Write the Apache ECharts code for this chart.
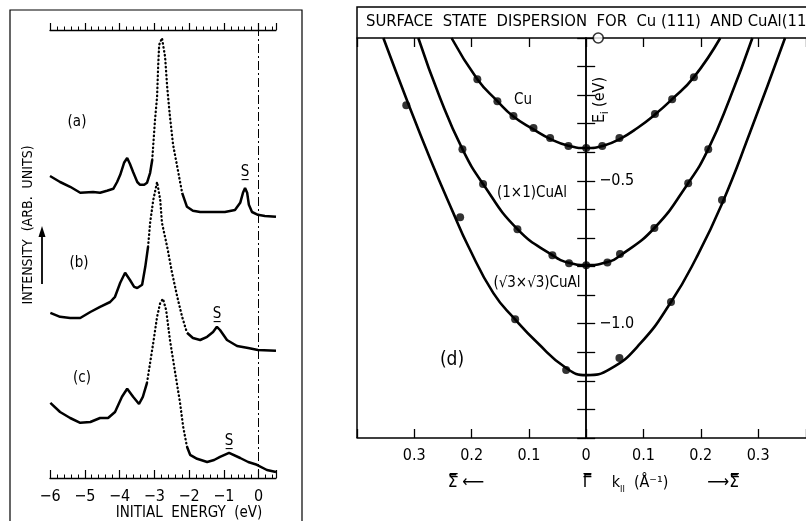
<!DOCTYPE html>
<html>
<head>
<meta charset="UTF-8">
<title>Surface state dispersion Cu(111) / CuAl(111)</title>
<style>
    html, body { margin: 0; padding: 0; background: #fff; }
    #chartArea {
        position : absolute;
        top : 0;
        left : 0;
        width : 806px;
        height : 521px;
    }
</style>
</head>
<body>
<div id="chartArea"></div>
<script src="https://cdn.jsdelivr.net/npm/echarts@6/dist/echarts.min.js"></script>
<script>
var FONT = "'DejaVu Sans Condensed', 'Liberation Sans Narrow', 'DejaVu Sans', sans-serif";

// ---- left panel : spectra, [initial energy (eV), intensity (arb. units)]
var spectrumA = [
    [-6.0, 75.5], [-5.71, 74], [-5.42, 72.8], [-5.13, 71.3], [-4.76, 71.5], [-4.56, 71.3],
    [-4.36, 71.8], [-4.18, 72.3], [-4.07, 74], [-3.98, 75.8], [-3.87, 78.8], [-3.78, 80],
    [-3.70, 78.5], [-3.61, 76.5], [-3.49, 74], [-3.41, 73.3], [-3.29, 73.3], [-3.21, 73.8],
    [-3.12, 76.3], [-3.06, 79.5], [-2.98, 89.5], [-2.92, 95.3], [-2.89, 102.8], [-2.86, 108.3],
    [-2.78, 110], [-2.69, 105.3], [-2.63, 97.8], [-2.55, 90.3], [-2.46, 83.3], [-2.34, 77.8],
    [-2.20, 71.3], [-2.06, 67.8], [-1.89, 66.8], [-1.68, 66.5], [-1.31, 66.5], [-0.97, 66.5],
    [-0.68, 67], [-0.53, 68.8], [-0.45, 71.3], [-0.39, 72.5], [-0.33, 71.3], [-0.28, 68.3],
    [-0.19, 66.5], [-0.02, 65.8], [0.18, 65.5], [0.5, 65.3]
];
var spectrumB = [
    [-5.99, 41.3], [-5.71, 40.3], [-5.42, 40], [-5.13, 40], [-4.84, 41.5], [-4.56, 42.8],
    [-4.27, 44], [-4.13, 45.3], [-3.98, 48.8], [-3.84, 51.3], [-3.70, 49.5], [-3.58, 47.8],
    [-3.49, 47.5], [-3.35, 48.3], [-3.26, 52.8], [-3.18, 57.8], [-3.12, 63.8], [-3.03, 69.5],
    [-2.92, 74], [-2.83, 69.5], [-2.78, 63.8], [-2.63, 57.8], [-2.49, 51.3], [-2.34, 45.3],
    [-2.20, 40.3], [-2.06, 36.3], [-1.89, 35], [-1.68, 34.5], [-1.48, 35.3], [-1.31, 36.5],
    [-1.20, 37.8], [-1.11, 37], [-0.91, 34.5], [-0.62, 33], [-0.30, 32.5], [-0.02, 32],
    [0.5, 31.8]
];
var spectrumC = [
    [-5.99, 18.8], [-5.71, 16.5], [-5.42, 15], [-5.13, 13.8], [-4.84, 14], [-4.56, 15],
    [-4.33, 15], [-4.13, 16.5], [-3.93, 20.3], [-3.78, 22.3], [-3.61, 20.3], [-3.44, 18.5],
    [-3.33, 20.3], [-3.21, 23.8], [-3.12, 28.8], [-3.03, 33.8], [-2.92, 40.3], [-2.83, 43.8],
    [-2.75, 44.8], [-2.66, 42], [-2.55, 34.5], [-2.40, 26.3], [-2.26, 18.8], [-2.17, 12.8],
    [-2.06, 7.8], [-1.97, 5.8], [-1.77, 4.8], [-1.48, 4], [-1.28, 4.5], [-1.11, 5.3],
    [-0.85, 6.3], [-0.53, 5], [-0.30, 4], [-0.05, 3.3], [0.24, 2], [0.5, 1.5]
];
// energy window where the recorded points are sparse (drawn dotted)
var dottedA = [-3.06, -2.20];
var dottedB = [-3.18, -2.06];
var dottedC = [-3.21, -2.06];
var fermiLevel = 0;

// ---- right panel : dispersion, [k (1/A), E_i (eV)]
var cuCurve = [
    [-0.235, 0], [-0.19, -0.144], [-0.155, -0.221], [-0.127, -0.275], [-0.092, -0.320],
    [-0.063, -0.353], [-0.031, -0.377], [0, -0.385], [0.03, -0.377], [0.06, -0.352],
    [0.09, -0.314], [0.12, -0.268], [0.15, -0.214], [0.188, -0.137], [0.234, 0]
];
var cuDots = [
    [-0.190, -0.144], [-0.155, -0.221], [-0.127, -0.273], [-0.092, -0.315], [-0.063, -0.350],
    [-0.031, -0.378], [0, -0.385], [0.028, -0.378], [0.058, -0.350], [0.120, -0.266],
    [0.150, -0.214], [0.188, -0.137]
];
var cuAl11Curve = [
    [-0.293, 0], [-0.255, -0.21], [-0.216, -0.389], [-0.180, -0.511], [-0.120, -0.669],
    [-0.059, -0.760], [-0.030, -0.787], [0, -0.795], [0.037, -0.784], [0.059, -0.762],
    [0.119, -0.665], [0.178, -0.508], [0.213, -0.389], [0.251, -0.21], [0.290, 0]
];
var cuAl11Dots = [
    [-0.216, -0.389], [-0.180, -0.511], [-0.120, -0.669], [-0.059, -0.760], [-0.030, -0.788],
    [0, -0.795], [0.037, -0.786], [0.059, -0.756], [0.119, -0.665], [0.178, -0.508],
    [0.213, -0.389]
];
var cuAlR3Curve = [
    [-0.354, 0], [-0.312, -0.222], [-0.272, -0.424], [-0.232, -0.612], [-0.206, -0.728],
    [-0.162, -0.893], [-0.124, -0.985], [-0.086, -1.065], [-0.035, -1.155], [0, -1.18],
    [0.042, -1.158], [0.094, -1.07], [0.148, -0.924], [0.192, -0.77], [0.237, -0.58],
    [0.286, -0.33], [0.347, 0]
];
var cuAlR3Dots = [
    [-0.314, -0.235], [-0.220, -0.627], [-0.124, -0.984], [-0.035, -1.162], [0.058, -1.120],
    [0.148, -0.924], [0.237, -0.567]
];
var fermiMark = [[0.021, 0]];

// split a spectrum into its solid part and its dotted part
function splitSpectrum(data, range) {
    var solid = data.map(function (p) {
        return (p[0] > range[0] && p[0] < range[1]) ? [p[0], '-'] : p;
    });
    var dotted = data.map(function (p) {
        return (p[0] >= range[0] && p[0] <= range[1]) ? p : [p[0], '-'];
    });
    return [solid, dotted];
}

function spectrumSeries(data, range, withFermi) {
    var parts = splitSpectrum(data, range);
    var solid = {
        type: 'line', xAxisIndex: 2, yAxisIndex: 2, data: parts[0],
        showSymbol: false, symbol: 'none', connectNulls: false,
        lineStyle: { color: '#000', width: 2.5 }
    };
    if (withFermi) {
        solid.markLine = {
            silent: true, symbol: 'none', label: { show: false },
            lineStyle: { color: '#000', width: 1, type: [9, 3, 2, 3] },
            data: [{ xAxis: fermiLevel }]
        };
    }
    var dotted = {
        type: 'line', xAxisIndex: 2, yAxisIndex: 2, data: parts[1],
        showSymbol: false, symbol: 'none', connectNulls: false,
        lineStyle: { color: '#000', width: 2.3, type: [0.5, 3.5], cap: 'round' }
    };
    return [solid, dotted];
}

function curveSeries(data) {
    return {
        type: 'line', xAxisIndex: 0, yAxisIndex: 0, data: data,
        smooth: 0.5, showSymbol: false, symbol: 'none',
        lineStyle: { color: '#000', width: 2.6 }
    };
}
function dotSeries(data) {
    return {
        type: 'scatter', xAxisIndex: 0, yAxisIndex: 0, data: data,
        symbol: 'circle', symbolSize: 8, itemStyle: { color: '#000' }
    };
}

var near = function (a, b) { return Math.abs(a - b) < 1e-6; };

// right panel geometry: k = -0.4 on the frame, 573 px per 1/A, clipped at the page edge
var kMin = -0.4, kPx = 573, rightLeft = 357, rightWidth = 449;
var kMax = kMin + rightWidth / kPx;
var zeroOffset = -(0 - kMin) * kPx;

var myChart = echarts.init(document.getElementById('chartArea'), null, { renderer: 'canvas' });

var series = []
    .concat(spectrumSeries(spectrumA, dottedA, true))
    .concat(spectrumSeries(spectrumB, dottedB, false))
    .concat(spectrumSeries(spectrumC, dottedC, false))
    .concat([
        curveSeries(cuCurve), curveSeries(cuAl11Curve), curveSeries(cuAlR3Curve),
        dotSeries(cuDots), dotSeries(cuAl11Dots), dotSeries(cuAlR3Dots),
        {
            type: 'scatter', xAxisIndex: 1, yAxisIndex: 0, data: fermiMark,
            symbol: 'circle', symbolSize: 10,
            itemStyle: { color: '#fff', borderColor: '#000', borderWidth: 1.6 },
            z: 5
        }
    ]);

var txt = function (x, y, text, size, extra) {
    var o = {
        type: 'text', x: x, y: y,
        style: { text: text, fill: '#000', font: size + 'px ' + FONT, textAlign: 'center', textVerticalAlign: 'middle' }
    };
    if (extra) { for (var k in extra) { o.style[k] = extra[k]; } }
    return o;
};

var kLabel = function (v) {
    if (Math.abs(v) > 0.35) return '';
    return near(v, 0) ? '0' : Math.abs(v).toFixed(1);
};

myChart.setOption({
    animation: false,
    backgroundColor: '#fff',
    textStyle: { fontFamily: FONT, color: '#000' },
    grid: [
        { left: rightLeft, top: 38, width: rightWidth, height: 400, outerBoundsMode: 'none', containLabel: false },
        { left: 50, top: 30, width: 226, height: 448, outerBoundsMode: 'none', containLabel: false }
    ],
    xAxis: [
        {   // right panel, k axis
            gridIndex: 0, type: 'value', position: 'bottom', min: kMin, max: kMax, interval: 0.1,
            axisLine: { onZero: false, lineStyle: { color: '#000', width: 1.5 } },
            axisTick: { inside: true, length: 9, lineStyle: { color: '#000', width: 1.3 } },
            axisLabel: { color: '#000', fontSize: 16, fontFamily: FONT, margin: 10, formatter: kLabel },
            splitLine: { show: false }
        },
        {   // right panel, top edge under the title
            gridIndex: 0, type: 'value', position: 'top', min: kMin, max: kMax, interval: 0.1,
            axisLine: { onZero: false, lineStyle: { color: '#000', width: 1.5 } },
            axisTick: { inside: true, length: 9, lineStyle: { color: '#000', width: 1.3 } },
            axisLabel: { show: false },
            splitLine: { show: false }
        },
        {   // left panel, energy axis
            gridIndex: 1, type: 'value', position: 'bottom', min: -6, max: 0.5, interval: 1,
            axisLine: { onZero: false, lineStyle: { color: '#000', width: 1.3 } },
            axisTick: { inside: true, length: 8, lineStyle: { color: '#000', width: 1.2 } },
            minorTick: { show: true, splitNumber: 5, length: 3.5, lineStyle: { color: '#000', width: 1 } },
            axisLabel: {
                color: '#000', fontSize: 16, fontFamily: FONT, margin: 11,
                formatter: function (v) {
                    if (v > 0.1) return '';
                    return v < 0 ? '\u2212' + Math.abs(v) : String(v);
                }
            },
            splitLine: { show: false }, minorSplitLine: { show: false }
        },
        {   // left panel, top ruler
            gridIndex: 1, type: 'value', position: 'top', min: -6, max: 0.5, interval: 1,
            axisLine: { onZero: false, lineStyle: { color: '#000', width: 1.3 } },
            axisTick: { inside: false, length: 7, lineStyle: { color: '#000', width: 1.2 } },
            minorTick: { show: true, splitNumber: 5, length: 3.5, lineStyle: { color: '#000', width: 1 } },
            axisLabel: { show: false },
            splitLine: { show: false }, minorSplitLine: { show: false }
        }
    ],
    yAxis: [
        {   // right panel E_i axis at k = 0, ticks to the left
            gridIndex: 0, type: 'value', min: -1.4, max: 0, interval: 0.1, position: 'left',
            offset: zeroOffset,
            axisLine: { onZero: false, lineStyle: { color: '#000', width: 1.5 } },
            axisTick: { inside: false, length: 9, lineStyle: { color: '#000', width: 1.3 } },
            axisLabel: { show: false },
            splitLine: { show: false }
        },
        {   // same axis, ticks to the right and labels
            gridIndex: 0, type: 'value', min: -1.4, max: 0, interval: 0.1, position: 'left',
            offset: zeroOffset,
            axisLine: { onZero: false, lineStyle: { color: '#000', width: 1.5 } },
            axisTick: { inside: true, length: 9, lineStyle: { color: '#000', width: 1.3 } },
            axisLabel: {
                inside: true, margin: 13, color: '#000', fontSize: 16, fontFamily: FONT,
                formatter: function (v) {
                    if (near(v, -0.5)) return '\u22120.5';
                    if (near(v, -1)) return '\u22121.0';
                    return '';
                }
            },
            splitLine: { show: false }
        },
        {   // left panel intensity, hidden
            gridIndex: 1, type: 'value', min: 0, max: 112, show: false,
            splitLine: { show: false }
        }
    ],
    graphic: [
        // left panel frame and texts
        { type: 'rect', shape: { x: 10, y: 10, width: 292, height: 530 },
          style: { fill: 'none', stroke: '#000', lineWidth: 1.2 } },
        txt(77, 122, '(a)', 15),
        txt(79, 263, '(b)', 15),
        txt(82, 378, '(c)', 15),
        txt(245, 172, 'S\u0332', 15),
        txt(217, 314, 'S\u0332', 15),
        txt(229, 441, 'S\u0332', 15),
        { type: 'text', x: 28, y: 225, rotation: Math.PI / 2,
          style: { text: 'INTENSITY  (ARB.  UNITS)', fill: '#000', font: '14px ' + FONT,
                   textAlign: 'center', textVerticalAlign: 'middle' } },
        { type: 'line', shape: { x1: 42, y1: 284, x2: 42, y2: 234 },
          style: { stroke: '#000', lineWidth: 1.8 } },
        { type: 'polygon', shape: { points: [[42, 226], [38.5, 237], [45.5, 237]] },
          style: { fill: '#000' } },
        txt(189, 513, 'INITIAL  ENERGY  (eV)', 15),

        // right panel frame, title and texts
        { type: 'polyline', shape: { points: [[357, 438], [357, 7], [806, 7]] },
          style: { stroke: '#000', lineWidth: 1.5, fill: 'none' } },
        txt(366, 22, 'SURFACE  STATE  DISPERSION  FOR  Cu (111)  AND CuAl(111)', 16.5, { textAlign: 'left' }),
        txt(523, 100, 'Cu', 15),
        txt(532, 193, '(1\u00d71)CuAl', 15),
        txt(537, 283, '(\u221a3\u00d7\u221a3)CuAl', 15),
        txt(452, 360, '(d)', 19),
        { type: 'text', x: 600, y: 100, rotation: Math.PI / 2,
          style: { text: '{e|E}{s|i}{e| (eV)}', textAlign: 'center', textVerticalAlign: 'middle',
                   rich: {
                       e: { fontSize: 16, fontFamily: FONT, color: '#000', lineHeight: 20, verticalAlign: 'middle' },
                       s: { fontSize: 10, fontFamily: FONT, color: '#000', lineHeight: 20, verticalAlign: 'bottom' }
                   } } },
        txt(466, 483, '\u03a3\u033f \u27f5', 17),
        txt(587, 483, '\u0393\u033f', 17),
        { type: 'text', x: 640, y: 483,
          style: { text: '{e|k}{s|II}{e|  (\u00c5\u207b\u00b9)}', textAlign: 'center', textVerticalAlign: 'middle',
                   rich: {
                       e: { fontSize: 16, fontFamily: FONT, color: '#000', lineHeight: 22, verticalAlign: 'middle' },
                       s: { fontSize: 9, fontFamily: FONT, color: '#000', lineHeight: 22, verticalAlign: 'bottom' }
                   } } },
        txt(723, 483, '\u27f6\u03a3\u033f', 17)
    ],
    series: series
});
</script>
</body>
</html>
